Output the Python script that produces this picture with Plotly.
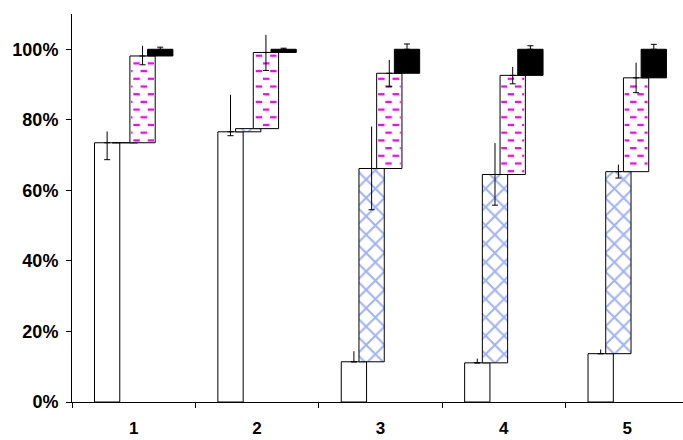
import plotly.graph_objects as go

# Categories and tick labels
categories = [1, 2, 3, 4, 5]
tick_labels = ["1", "2", "3", "4", "5"]
y_ticks = [0.0, 0.2, 0.4, 0.6, 0.8, 1.0]

# Segment sizes (fraction of total), stacked bottom to top
white = [0.735, 0.766, 0.114, 0.111, 0.137]
blue = [0.000, 0.009, 0.548, 0.534, 0.516]
pink = [0.246, 0.216, 0.270, 0.281, 0.266]
black = [0.019, 0.009, 0.068, 0.074, 0.081]

# Error extents above / below each segment's top (0 = none)
white_err_up = [0.032, 0.105, 0.030, 0.012, 0.012]
white_err_dn = [0.048, 0.011, 0.000, 0.000, 0.000]
blue_err_up = [0.000, 0.000, 0.119, 0.089, 0.020]
blue_err_dn = [0.000, 0.000, 0.117, 0.087, 0.018]
pink_err_up = [0.029, 0.050, 0.038, 0.024, 0.043]
pink_err_dn = [0.025, 0.051, 0.038, 0.024, 0.042]
black_err_up = [0.006, 0.003, 0.015, 0.010, 0.014]

# Geometry of the clustered, overlapping columns (category units)
BAR_W = 0.205
STEP = 0.1435
OFFSETS = [-1.5 * STEP, -0.5 * STEP, 0.5 * STEP, 1.5 * STEP]

X_RANGE = [0.5, 5.452]
Y_RANGE = [0.0, 1.1]
PLOT_W_PX = 683 - 72
PLOT_H_PX = 440 - 14 - 38
DX = (X_RANGE[1] - X_RANGE[0]) / PLOT_W_PX   # x units per pixel
DY = (Y_RANGE[1] - Y_RANGE[0]) / PLOT_H_PX   # y units per pixel

segments = [white, blue, pink, black]
bases = []
running = [0.0] * len(categories)
for seg in segments:
    bases.append(list(running))
    running = [r + v for r, v in zip(running, seg)]

fig = go.Figure()

outline = dict(color="black", width=1)
styles = [
    dict(color="white", line=outline),
    dict(color="white", line=outline,
         pattern=dict(shape="x", fgcolor="#3d63ff", bgcolor="white", size=13, solidity=0.28)),
    dict(color="white", line=outline),
    dict(color="black", line=outline),
]

for seg, base, off, style in zip(segments, bases, OFFSETS, styles):
    fig.add_trace(go.Bar(
        x=categories, y=seg, base=base,
        width=BAR_W, offset=off - BAR_W / 2,
        marker=style, hoverinfo="skip",
    ))

# Magenta dash texture on the third segment (staggered brick layout)
row_pitch = 7.7 * DY
half_pitch = 7.2 * DX
dash_len = 6.4 * DX
row_anchor = 0.960
col_anchor = 1.023
dx_list, dy_list = [], []
for c, b, h in zip(categories, bases[2], pink):
    left = c + OFFSETS[2] - BAR_W / 2
    right = left + BAR_W
    bottom, top = b, b + h
    n0 = int((bottom - row_anchor) / row_pitch) - 2
    n1 = int((top - row_anchor) / row_pitch) + 2
    for n in range(n0, n1 + 1):
        yr = row_anchor + n * row_pitch
        if yr < bottom + 2 * DY or yr > top - 2 * DY:
            continue
        shift = 0 if n % 2 == 0 else 1
        m0 = int((left - col_anchor) / (2 * half_pitch)) - 2
        m1 = int((right - col_anchor) / (2 * half_pitch)) + 2
        for m in range(m0, m1 + 1):
            xc = col_anchor + (2 * m + shift) * half_pitch
            x0 = max(xc - dash_len / 2, left + 1.2 * DX)
            x1 = min(xc + dash_len / 2, right - 1.2 * DX)
            if x1 - x0 < 0.8 * DX:
                continue
            dx_list += [x0, x1, None]
            dy_list += [yr, yr, None]

fig.add_trace(go.Scatter(
    x=dx_list, y=dy_list, mode="lines",
    line=dict(color="#ff00ff", width=2.2), hoverinfo="skip",
))


def add_errors(off, base, seg, up, dn, cap_top):
    xs, ys, ups, dns = [], [], [], []
    for c, b, v, u, d in zip(categories, base, seg, up, dn):
        if u == 0 and d == 0:
            continue
        xs.append(c + off)
        ys.append(b + v)
        ups.append(u)
        dns.append(d)
    if not xs:
        return
    invisible = dict(size=1, color="rgba(0,0,0,0)")
    if cap_top:
        fig.add_trace(go.Scatter(
            x=xs, y=ys, mode="markers", marker=invisible, hoverinfo="skip",
            error_y=dict(type="data", symmetric=False, array=ups,
                         arrayminus=[0] * len(xs), color="black",
                         thickness=1, width=3),
        ))
    else:
        # upper whisker without cap, lower whisker with cap
        fig.add_trace(go.Scatter(
            x=xs, y=ys, mode="markers", marker=invisible, hoverinfo="skip",
            error_y=dict(type="data", symmetric=False, array=ups,
                         arrayminus=[0] * len(xs), color="black",
                         thickness=1, width=0),
        ))
        fig.add_trace(go.Scatter(
            x=xs, y=ys, mode="markers", marker=invisible, hoverinfo="skip",
            error_y=dict(type="data", symmetric=False, array=[0] * len(xs),
                         arrayminus=dns, color="black",
                         thickness=1, width=3),
        ))


add_errors(OFFSETS[0], bases[0], white, white_err_up, white_err_dn, False)
add_errors(OFFSETS[1], bases[1], blue, blue_err_up, blue_err_dn, False)
add_errors(OFFSETS[2], bases[2], pink, pink_err_up, pink_err_dn, False)
add_errors(OFFSETS[3], bases[3], black, black_err_up, [0] * 5, True)

y_font = dict(family="Liberation Sans, Arial, sans-serif", size=18,
              color="black", weight="bold")
x_font = dict(family="Liberation Sans, Arial, sans-serif", size=17,
              color="black", weight="bold")

fig.update_layout(
    width=683, height=440,
    margin=dict(l=72, r=0, t=14, b=38, pad=0, autoexpand=False),
    plot_bgcolor="white", paper_bgcolor="white",
    barmode="overlay", showlegend=False,
    xaxis=dict(
        range=X_RANGE, tickmode="array", tickvals=categories, ticktext=tick_labels,
        ticks="outside", ticklen=0, tickcolor="black",
        showline=True, linecolor="black", linewidth=1,
        showgrid=False, zeroline=False, tickfont=x_font,
        ticklabelstandoff=11, automargin=False,
        minor=dict(tick0=0.5, dtick=1, ticks="outside", ticklen=5,
                   tickcolor="black", tickwidth=1, showgrid=False),
    ),
    yaxis=dict(
        range=Y_RANGE, tickmode="array", tickvals=y_ticks, tickformat=".0%",
        ticks="outside", ticklen=5, tickcolor="black", tickwidth=1,
        showline=True, linecolor="black", linewidth=1,
        showgrid=False, zeroline=False, tickfont=y_font,
        ticklabelstandoff=4, automargin=False,
    ),
)

fig.write_html("out.html")
